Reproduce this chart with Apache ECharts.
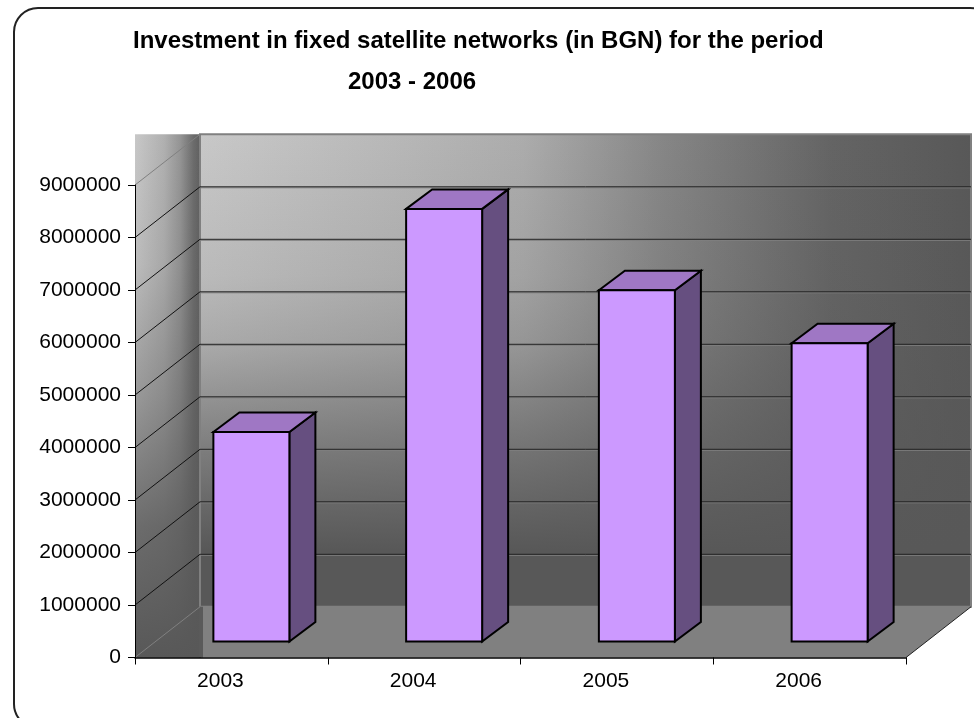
<!DOCTYPE html>
<html>
<head>
<meta charset="utf-8">
<style>html,body{margin:0;padding:0;background:#fff}#c{width:974px;height:718px}</style>
<script src="https://cdn.jsdelivr.net/npm/echarts@6/dist/echarts.min.js"></script>
</head>
<body>
<div id="c"></div>
<script>
const categories = ['2003', '2004', '2005', '2006'];
const investment = [3990000, 8240000, 6690000, 5680000];
const yTicks = [0, 1000000, 2000000, 3000000, 4000000, 5000000, 6000000, 7000000, 8000000, 9000000];
const titleLine1 = 'Investment in fixed satellite networks (in BGN) for the period';
const titleLine2 = '2003 - 2006';

const FONT = '"Liberation Sans", Arial, sans-serif';
const DEPTH_X = 65, DEPTH_Y = -50.7;      // whole-scene depth offset
const BAR_OFF_X = 20, BAR_OFF_Y = -16;    // bar's front face position inside the scene
const BAR_DX = 26, BAR_DY = -19.5;        // bar depth
const BAR_W = 76;

const chart = echarts.init(document.getElementById('c'), null, {renderer: 'canvas'});
const G = echarts.graphic;

function poly(points, style, z2) {
  return {type: 'polygon', shape: {points}, style, z2: z2 || 0, silent: true};
}
function seg(x1, y1, x2, y2, stroke, w, z2) {
  return {type: 'line', shape: {x1, y1, x2, y2}, style: {stroke, lineWidth: w}, z2: z2 || 0, silent: true};
}
function dark(a) { return 'rgba(88,88,88,' + a + ')'; }

function renderScene(params, api) {
  const cs = params.coordSys;
  const L = cs.x, R = cs.x + cs.width;
  const y0 = api.coord([0, 0])[1];
  const y9 = api.coord([0, yTicks[yTicks.length - 1]])[1];
  const bL = L + DEPTH_X, bR = R + DEPTH_X, bTop = y9 + DEPTH_Y, bBot = y0 + DEPTH_Y;
  const ch = [];
  const shade = new G.LinearGradient(0, bTop, 0, bBot, [
    {offset: 0, color: dark(0)},
    {offset: 0.3, color: dark(0.12)},
    {offset: 0.45, color: dark(0.28)},
    {offset: 0.56, color: dark(0.48)},
    {offset: 0.66, color: dark(0.66)},
    {offset: 0.78, color: dark(0.85)},
    {offset: 0.88, color: dark(1)},
    {offset: 1, color: dark(1)}
  ], true);
  // back wall: horizontal ramp darkened downwards
  const wall = new G.LinearGradient(bL, 0, bR, 0, [
    {offset: 0, color: '#c8c8c8'},
    {offset: 0.25, color: '#b8b8b8'},
    {offset: 0.42, color: '#acacac'},
    {offset: 0.6, color: '#868686'},
    {offset: 0.82, color: '#646464'},
    {offset: 1, color: '#585858'}
  ], true);
  const wallRect = {x: bL, y: bTop, width: bR - bL, height: bBot - bTop};
  ch.push({type: 'rect', shape: wallRect, style: {fill: wall}, silent: true, z2: 0});
  ch.push({type: 'rect', shape: wallRect, style: {fill: shade}, silent: true, z2: 0});
  ch.push({type: 'rect', shape: wallRect, style: {fill: 'none', stroke: '#808080', lineWidth: 2}, silent: true, z2: 0});
  // floor
  ch.push(poly([[L, y0], [R, y0], [bR, bBot], [bL, bBot]], {fill: '#808080'}, 1));
  ch.push(seg(R, y0, bR, bBot, '#222', 1, 2));
  // side wall (bounding rectangle of the parallelogram)
  const sideRect = {x: L, y: bTop, width: bL - L + 1, height: y0 - bTop};
  const sideH = new G.LinearGradient(L, 0, bL, 0, [
    {offset: 0, color: '#c8c8c8'},
    {offset: 0.45, color: '#b0b0b0'},
    {offset: 0.7, color: '#949494'},
    {offset: 0.9, color: '#6c6c6c'},
    {offset: 1, color: '#606060'}
  ], true);
  ch.push({type: 'rect', shape: sideRect, style: {fill: sideH}, silent: true, z2: 3});
  const sideV = new G.LinearGradient(0, bTop, 0, y0, [
    {offset: 0, color: dark(0)},
    {offset: 0.25, color: dark(0.1)},
    {offset: 0.5, color: dark(0.42)},
    {offset: 0.75, color: dark(0.82)},
    {offset: 1, color: dark(1)}
  ], true);
  ch.push({type: 'rect', shape: sideRect, style: {fill: sideV}, silent: true, z2: 4});
  ch.push({type: 'rect', shape: {x: bL - 1, y: bBot, width: 4, height: y0 - bBot},
    style: {fill: '#5a5a5a'}, silent: true, z2: 4});
  ch.push(seg(bL, bTop, bL, bBot, '#808080', 2, 5));
  // grid lines
  yTicks.forEach((t, i) => {
    const y = api.coord([0, t])[1];
    const yb = y + DEPTH_Y;
    const edge = i === 0 || i === yTicks.length - 1;
    if (!edge) {
      ch.push(seg(bL, yb + 1, bR, yb + 1, '#808080', 1, 5));
      ch.push(seg(bL, yb, bR, yb, '#222', 1, 6));
    }
    ch.push(seg(L, y, bL, yb, edge ? '#808080' : '#111', 1, 6));
  });
  return {type: 'group', children: ch};
}

function renderBar(params, api) {
  const p = api.coord([api.value(0), api.value(1)]);
  const base = api.coord([api.value(0), 0]);
  const x1 = p[0] + BAR_OFF_X - BAR_W / 2, x2 = x1 + BAR_W;
  const yT = p[1] + BAR_OFF_Y, yB = base[1] + BAR_OFF_Y;
  const edge = {stroke: '#000', lineWidth: 2, lineJoin: 'miter'};
  return {type: 'group', children: [
    poly([[x2, yT], [x2 + BAR_DX, yT + BAR_DY], [x2 + BAR_DX, yB + BAR_DY], [x2, yB]],
      Object.assign({fill: '#664f80'}, edge)),
    poly([[x1, yT], [x1 + BAR_DX, yT + BAR_DY], [x2 + BAR_DX, yT + BAR_DY], [x2, yT]],
      Object.assign({fill: '#9f77c4'}, edge)),
    {type: 'rect', shape: {x: x1, y: yT, width: BAR_W, height: yB - yT},
      style: Object.assign({fill: '#cc99ff'}, edge), silent: true}
  ]};
}

chart.setOption({
  animation: false,
  backgroundColor: '#fff',
  title: [
    {text: titleLine1, left: 128, top: 24, textStyle: {fontFamily: FONT, fontWeight: 'bold', fontSize: 24, color: '#000'}},
    {text: titleLine2, left: 343, top: 65, textStyle: {fontFamily: FONT, fontWeight: 'bold', fontSize: 24, color: '#000'}}
  ],
  graphic: [{
    type: 'rect', silent: true, z: -1,
    shape: {x: 14, y: 8, width: 980, height: 720, r: 24},
    style: {fill: 'none', stroke: '#222', lineWidth: 2}
  }],
  grid: {left: 135, top: 185, width: 771, height: 472.5, containLabel: false},
  xAxis: {
    type: 'category', data: categories, z: 8,
    axisLine: {show: true, lineStyle: {color: '#000', width: 1.5}},
    axisTick: {show: true, length: 7, lineStyle: {color: '#000', width: 1}},
    axisLabel: {color: '#000', fontFamily: FONT, fontSize: 21, margin: 13, padding: [0, 22, 0, 0]},
    splitLine: {show: false}
  },
  yAxis: {
    type: 'value', min: 0, max: 9000000, interval: 1000000, z: 8,
    axisLine: {show: true, lineStyle: {color: '#000', width: 1}},
    axisTick: {show: true, length: 7, lineStyle: {color: '#000', width: 1}},
    axisLabel: {color: '#000', fontFamily: FONT, fontSize: 21, margin: 14, formatter: v => String(v)},
    splitLine: {show: false}
  },
  series: [
    {type: 'custom', z: 1, clip: false, silent: true, renderItem: renderScene, data: [[0, 0]]},
    {type: 'custom', z: 3, clip: false, silent: true, renderItem: renderBar,
      data: investment.map((v, i) => [i, v])}
  ]
});
</script>
</body>
</html>
